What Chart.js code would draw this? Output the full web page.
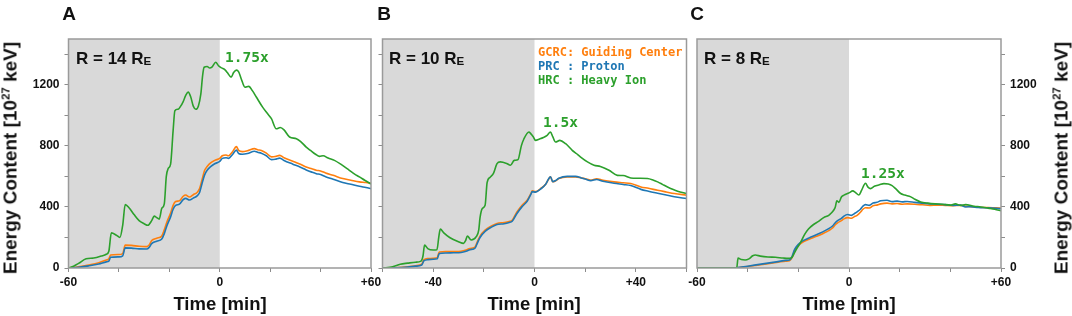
<!DOCTYPE html>
<html>
<head>
<meta charset="utf-8">
<script src="https://cdn.jsdelivr.net/npm/chart.js@4.4.0/dist/chart.umd.min.js"></script>
<style>
  body { margin: 0; background: #fff; }
  #wrap { position: relative; width: 1072px; height: 316px; overflow: hidden;
          font-family: "Liberation Sans", Arial, sans-serif; color: #111; }
  canvas { position: absolute; top: 0; }
  .t { position: absolute; line-height: 1; white-space: nowrap; font-weight: bold; }
  .c { transform: translate(-50%, -50%); }
  .rot { transform: translate(-50%, -50%) rotate(-90deg); font-size: 19px; }
  .letter { font-size: 19px; }
  .xt { font-size: 18.5px; }
  .r { font-size: 17px; transform: translateY(-50%); }
  .r sub { font-size: 0.68em; vertical-align: -0.12em; line-height: 0; }
  .rot sup { font-size: 0.6em; vertical-align: 0.6em; line-height: 0; }
  .mono { font-family: "DejaVu Sans Mono", monospace; transform: translateY(-50%); }
  .ann { font-size: 14.5px; color: #2ca02c; }
  .leg { font-size: 12px; }
</style>
</head>
<body>
<div id="wrap">
  <canvas id="chartA" width="392" height="316" style="left:0px"></canvas>
  <canvas id="chartB" width="320" height="316" style="left:372px"></canvas>
  <canvas id="chartC" width="392" height="316" style="left:680px"></canvas>

  <div class="t c letter" style="left:69px;top:13px">A</div>
  <div class="t c letter" style="left:384px;top:13px">B</div>
  <div class="t c letter" style="left:697px;top:13px">C</div>

  <div class="t rot" style="left:10px;top:158px">Energy Content [10<sup>27</sup> keV]</div>
  <div class="t rot" style="left:1061px;top:158px">Energy Content [10<sup>27</sup> keV]</div>

  <div class="t c xt" style="left:220px;top:304px">Time [min]</div>
  <div class="t c xt" style="left:534px;top:304px">Time [min]</div>
  <div class="t c xt" style="left:849px;top:304px">Time [min]</div>

  <div class="t r" style="left:76px;top:58px">R = 14 R<sub>E</sub></div>
  <div class="t r" style="left:389px;top:58px">R = 10 R<sub>E</sub></div>
  <div class="t r" style="left:704px;top:58px">R = 8 R<sub>E</sub></div>

  <div class="t mono ann" style="left:225px;top:57px">1.75x</div>
  <div class="t mono ann" style="left:543px;top:122px">1.5x</div>
  <div class="t mono ann" style="left:861px;top:173px">1.25x</div>

  <div class="t mono leg" style="left:538px;top:52px;color:#ff7f0e">GCRC: Guiding Center</div>
  <div class="t mono leg" style="left:538px;top:66px;color:#1f77b4">PRC : Proton</div>
  <div class="t mono leg" style="left:538px;top:80px;color:#2ca02c">HRC : Heavy Ion</div>
</div>

<script>
// Оси
const yTickValues = [0, 200, 400, 600, 800, 1000, 1200, 1400];
const yTickLabels = [0, 400, 800, 1200];
const xTickValues = [-60, -40, -20, 0, 20, 40, 60];
const xLabelsAC = ['-60', '', '', '0', '', '', '+60'];
const xLabelsB = ['', '-40', '', '0', '', '+40', ''];

// Панель A, R = 14 RE
const timeA_HRC = [-60, -58, -56, -53, -50, -47, -45, -44, -43, -41, -39.6, -38.5, -37.5, -36, -34, -32, -30, -28.5, -27, -26, -25, -24,
  -23, -22, -21.2, -20.5, -19.5, -18.5, -17.8, -16.5, -15.5, -14.5, -13.5, -12.5, -11.5, -10.5, -9.5, -8.5, -7.5, -6.8, -6.2,
  -5, -4, -3, -1.6, -0.5, 0.7, 2, 3, 4.5, 5.5, 6.6, 7.5, 8.5, 10, 11.5, 13, 14.5, 17, 19, 20.5, 22.4, 24, 25.5, 27.7, 30.4,
  32, 34.3, 36, 38, 39.6, 41, 43, 45.5, 48, 51.4, 53.5, 55.4, 57.5, 60];
const energyA_HRC = [0, 12, 30, 60, 65, 78, 90, 110, 230, 215, 200, 280, 415, 395, 350, 310, 290, 280, 310, 340, 330, 320,
  390, 420, 600, 650, 680, 900, 1030, 1040, 1060, 1090, 1130, 1152, 1120, 1060, 1040, 1060, 1140, 1260, 1315,
  1320, 1310, 1318, 1348, 1325, 1311, 1300, 1280, 1250, 1280, 1296, 1285, 1240, 1184, 1190, 1160, 1120, 1054, 1010, 978, 912, 920, 905, 858, 847,
  830, 792, 770, 745, 731, 735, 720, 705, 680, 640, 615, 597, 575, 550];

const timeA_ion = [-60, -56, -52, -48, -45, -44, -43.3, -40, -38.5, -37.5, -35, -32, -29, -28, -27, -25, -23, -22, -21, -19.5,
  -18.5, -17.5, -16, -14.5, -13.5, -12, -10.5, -9, -8, -7, -6, -5, -3.5, -2, 0, 1, 2.5, 3.5, 5, 6.6, 7.5, 9, 11, 13.8, 15,
  16.5, 18.5, 20.5, 22, 23.8, 25.5, 29, 32, 34.3, 36.5, 38.3, 40, 42, 45, 48.8, 52, 55.4, 58, 60];
const energyA_GCRC = [0, 8, 20, 35, 52, 60, 85, 88, 95, 150, 148, 142, 140, 150, 180, 195, 210, 250, 300, 360,
  410, 435, 440, 470, 478, 465, 480, 495, 520, 580, 640, 665, 690, 705, 718, 735, 740, 735, 760, 795, 770, 762, 768, 782, 775,
  770, 752, 728, 730, 738, 722, 700, 680, 662, 650, 640, 636, 622, 607, 586, 575, 564, 560, 555];
const energyA_PRC = [0, 5, 14, 26, 40, 45, 70, 73, 80, 132, 130, 125, 124, 135, 160, 175, 190, 225, 275, 335,
  385, 410, 418, 448, 456, 445, 458, 472, 495, 555, 610, 640, 665, 683, 698, 718, 722, 718, 742, 772, 750, 745, 750, 765, 758,
  752, 735, 710, 712, 720, 704, 680, 660, 642, 628, 618, 612, 598, 582, 560, 548, 535, 527, 520];

// Панель B, R = 10 RE
const timeB_HRC = [-60, -56, -53, -50, -47, -44.8, -44, -43.4, -42, -40, -38.5, -37.8, -37.2, -35.8, -33.5, -30, -28, -27.2, -26.5,
  -25, -23, -22, -21.5, -20.6, -19.5, -18.7, -17.5, -16.2, -14.8, -13.5, -11, -9.5, -8, -6.5, -5.2, -4.2, -2.2, -1.5, -0.5,
  0.4, 2, 3.5, 5, 6.3, 7.2, 8.3, 10, 12.3, 14.9, 16.5, 18.2, 20.9, 23.5, 26, 29.4, 32.7, 35, 38, 41, 44.6, 46.5, 48.6, 50.5,
  52.5, 56.5, 60];
const energyB_HRC = [0, 8, 25, 32, 38, 45, 80, 150, 125, 118, 120, 200, 255, 230, 200, 172, 161, 180, 210,
  183, 205, 250, 330, 390, 411, 560, 595, 620, 684, 695, 685, 673, 705, 710, 800, 845, 891, 880, 860,
  836, 845, 855, 869, 891, 860, 825, 836, 814, 771, 750, 727, 695, 673, 665, 640, 607, 606, 590, 588, 586, 578, 564, 548,
  531, 503, 488];

const timeB_ion = [-60, -55, -50, -47, -44.5, -43.6, -42, -40, -38.4, -37.6, -35, -32, -29, -27, -25.5, -24, -23.4, -22.5, -21.5,
  -19.5, -17, -14.8, -12, -10, -8.8, -7, -4.9, -2.9, -1.5, -0.9, 0.4, 2.4, 4.4, 5.5, 6.3, 7.2, 8.2, 9.6, 12.9, 16.2, 18.5,
  20, 22.2, 24.5, 27, 31.4, 35, 38, 42, 45, 48.6, 52, 55.2, 60];
const energyB_GCRC = [0, 2, 8, 15, 25, 55, 62, 64, 68, 105, 107, 108, 110, 118, 128, 132, 140, 175, 209,
  248, 275, 292, 298, 305, 313, 365, 411, 444, 485, 505, 500, 520, 549, 580, 597, 565, 570, 586, 597, 597, 590,
  585, 575, 585, 575, 564, 558, 553, 531, 522, 509, 498, 488, 477];
const energyB_PRC = [0, 1, 6, 12, 20, 48, 55, 57, 60, 95, 98, 100, 102, 110, 120, 125, 132, 165, 200,
  240, 268, 285, 290, 298, 306, 355, 402, 437, 480, 500, 497, 517, 548, 582, 598, 566, 572, 588, 600, 600, 590,
  583, 572, 580, 568, 555, 547, 540, 515, 503, 490, 478, 467, 455];

// Панель C, R = 8 RE
const timeC_HRC = [-60, -45, -44.3, -43.8, -42.5, -41, -39.5, -38, -37, -35, -32, -29, -26, -24, -22.5, -21.5, -20.5, -19.2,
  -17.5, -16, -14, -12, -10, -8, -7, -6, -5.4, -4.8, -4, -3, -2, 0, 1.5, 2.5, 3.9, 5, 6.5, 7.5, 8.5, 10, 12, 13.8, 15.5,
  17, 18.4, 20.4, 22, 24.4, 26, 28.3, 31, 34, 37, 40, 42, 44, 46, 49.4, 52, 55, 57.5, 60];
const energyC_HRC = [0, 0, 2, 65, 55, 52, 60, 80, 85, 78, 72, 70, 65, 63, 70, 100, 130, 165,
  220, 255, 285, 305, 330, 345, 360, 380, 400, 440, 430, 465, 477, 492, 505, 495, 478, 510, 555, 530, 520, 535, 545, 553, 550,
  540, 520, 488, 478, 466, 450, 433, 425, 420, 418, 412, 420, 410, 415, 405, 400, 392, 385, 375];

const timeC_ion = [-60, -45, -44, -40, -36, -32, -28, -25, -23.5, -22.5, -21.5, -20, -18, -16, -14, -12, -10, -8, -6.5, -5.5,
  -4.5, -3, -2, -0.5, 1, 2, 3.2, 4.5, 5.5, 6.5, 8, 9.5, 11, 12.5, 15, 17, 19, 21, 23, 26, 29, 32, 35, 38, 41, 44, 46, 48,
  51, 55, 58, 60];
const energyC_GCRC = [0, 0, 2, 10, 18, 28, 38, 45, 48, 68, 112, 148, 172, 186, 200, 213, 228, 245, 262, 282,
  296, 310, 322, 330, 326, 335, 345, 365, 385, 395, 393, 408, 412, 420, 425, 420, 422, 418, 420, 418, 414, 410, 412, 410, 408, 410, 405, 402,
  398, 396, 394, 392];
const energyC_PRC = [0, 0, 3, 12, 22, 32, 42, 50, 52, 75, 120, 155, 180, 195, 210, 225, 240, 258, 275, 295,
  310, 325, 340, 350, 345, 355, 368, 385, 405, 415, 410, 425, 430, 440, 444, 435, 438, 433, 436, 430, 425, 420, 418, 415, 410, 412, 400, 402,
  396, 394, 391, 388];

const shadeFrom = -60;
const shadeTo = 0;

const COLORS = { GCRC: '#ff7f0e', PRC: '#1f77b4', HRC: '#2ca02c' };
const tickFont = { family: 'Liberation Sans', size: 12, weight: 'bold' };

function points(times, values) {
  return times.map((t, i) => ({ x: t, y: values[i] }));
}

const panelPlugin = {
  id: 'panelShade',
  beforeDatasetsDraw(chart) {
    const { ctx, chartArea, scales: { x } } = chart;
    const x0 = x.getPixelForValue(shadeFrom);
    const x1 = x.getPixelForValue(shadeTo);
    ctx.save();
    ctx.fillStyle = '#d9d9d9';
    ctx.fillRect(x0, chartArea.top, x1 - x0, chartArea.bottom - chartArea.top);
    ctx.restore();
  },
  afterDraw(chart) {
    const { ctx, chartArea } = chart;
    ctx.save();
    ctx.strokeStyle = '#9a9a9a';
    ctx.lineWidth = 1.5;
    ctx.strokeRect(chartArea.left, chartArea.top, chartArea.right - chartArea.left, chartArea.bottom - chartArea.top);
    ctx.restore();
  }
};

function makePanel(id, cfg) {
  const ctx = document.getElementById(id).getContext('2d');
  const line = (label, times, values) => ({
    label: label,
    data: points(times, values),
    borderColor: COLORS[label],
    borderWidth: 1.6,
    pointRadius: 0,
    cubicInterpolationMode: 'monotone',
    fill: false
  });
  return new Chart(ctx, {
    type: 'line',
    data: {
      datasets: [
        line('HRC', cfg.tHRC, cfg.HRC),
        line('PRC', cfg.tIon, cfg.PRC),
        line('GCRC', cfg.tIon, cfg.GCRC)
      ]
    },
    options: {
      responsive: false,
      animation: false,
      layout: { padding: cfg.padding },
      plugins: { legend: { display: false }, tooltip: { enabled: false } },
      scales: {
        x: {
          type: 'linear',
          min: -60,
          max: 60,
          afterBuildTicks: s => { s.ticks = xTickValues.map(v => ({ value: v })); },
          afterFit: s => { s.height = 48; },
          border: { display: false },
          grid: { drawOnChartArea: false, drawTicks: true, tickLength: 4, color: '#8c8c8c' },
          ticks: {
            autoSkip: false,
            maxRotation: 0,
            padding: 3,
            color: '#111',
            font: tickFont,
            callback: (v, i) => cfg.xLabels[i]
          }
        },
        y: {
          position: cfg.yPos,
          min: 0,
          max: 1500,
          afterBuildTicks: s => { s.ticks = yTickValues.map(v => ({ value: v })); },
          afterFit: s => { s.width = cfg.yWidth; },
          border: { display: false },
          grid: { drawOnChartArea: false, drawTicks: true, tickLength: 4, color: '#8c8c8c' },
          ticks: {
            padding: 5,
            color: '#111',
            font: tickFont,
            callback: v => (cfg.yLabels && yTickLabels.includes(v)) ? String(v) : ''
          }
        }
      }
    },
    plugins: [panelPlugin]
  });
}

document.addEventListener('DOMContentLoaded', function() {
  makePanel('chartA', {
    tHRC: timeA_HRC, HRC: energyA_HRC, tIon: timeA_ion, GCRC: energyA_GCRC, PRC: energyA_PRC,
    xLabels: xLabelsAC, yPos: 'left', yWidth: 68.5, yLabels: true,
    padding: { left: 0, top: 39, right: 21, bottom: 0 }
  });
  makePanel('chartB', {
    tHRC: timeB_HRC, HRC: energyB_HRC, tIon: timeB_ion, GCRC: energyB_GCRC, PRC: energyB_PRC,
    xLabels: xLabelsB, yPos: 'left', yWidth: 10.5, yLabels: false,
    padding: { left: 0, top: 39, right: 5.5, bottom: 0 }
  });
  makePanel('chartC', {
    tHRC: timeC_HRC, HRC: energyC_HRC, tIon: timeC_ion, GCRC: energyC_GCRC, PRC: energyC_PRC,
    xLabels: xLabelsAC, yPos: 'right', yWidth: 71, yLabels: true,
    padding: { left: 17, top: 39, right: 0, bottom: 0 }
  });
});
</script>
</body>
</html>
